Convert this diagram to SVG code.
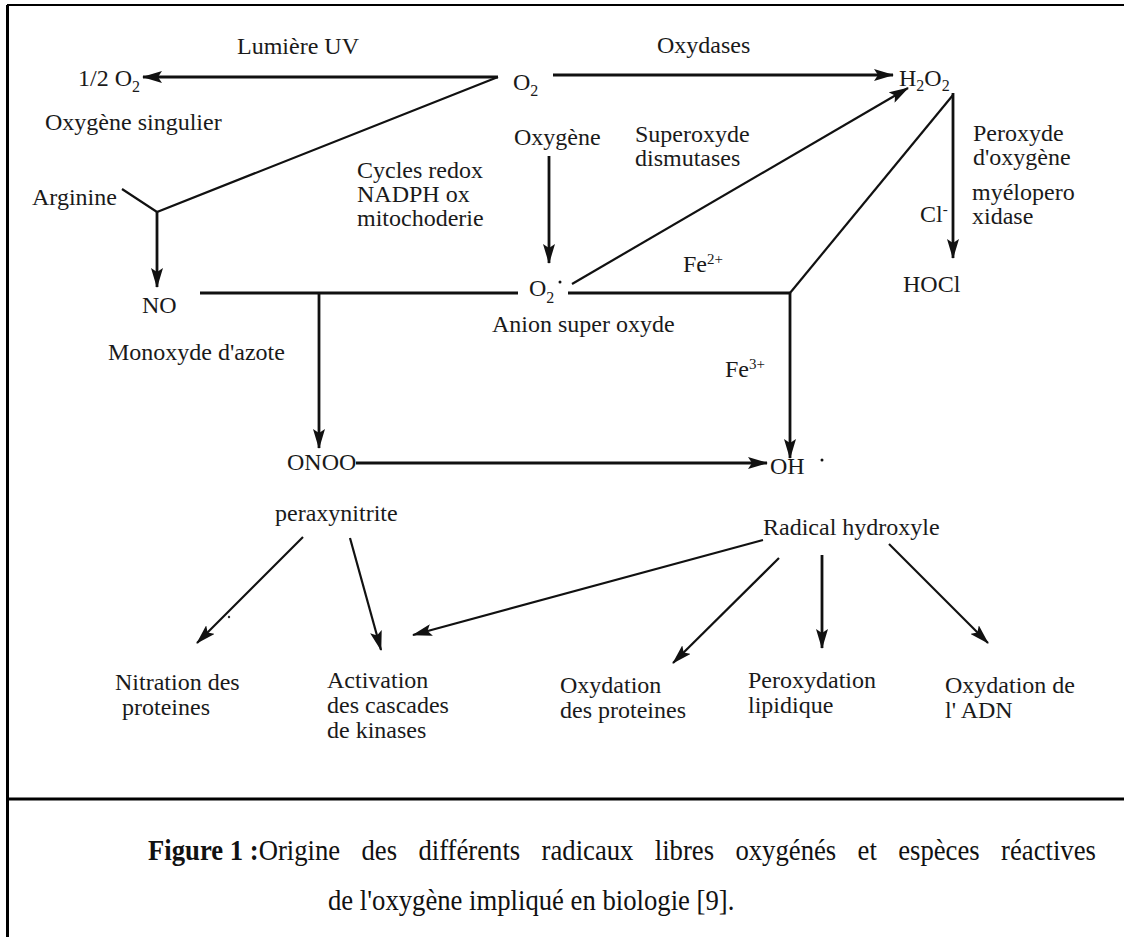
<svg xmlns="http://www.w3.org/2000/svg" width="1124" height="937" viewBox="0 0 1124 937" font-family="'Liberation Serif', 'Times New Roman', serif">
<defs>
<style>
text{font-family:"Liberation Serif","Times New Roman",serif;font-size:24px;fill:#1a1a1a}
.cap{font-size:29px;fill:#111}
.b{font-weight:bold}
.ln{stroke:#111;stroke-width:2.8;fill:none}
.thin{stroke:#111;stroke-width:2.2;fill:none}
.arr{marker-end:url(#ah)}
.frame{stroke:#000;stroke-width:3;fill:none}
</style>
<marker id="ah" viewBox="0 0 20 12" refX="19" refY="6" markerWidth="20" markerHeight="12" markerUnits="userSpaceOnUse" orient="auto">
<path d="M0,0 L20,6 L0,12 L4,6 z" fill="#111"/>
</marker>
</defs>
<rect width="1124" height="937" fill="#fff"/>
<g id="frame">
<line class="frame" x1="7.5" y1="5" x2="7.5" y2="937"/>
<line x1="7" y1="5" x2="1124" y2="5" stroke="#000" stroke-width="2"/>
<line class="frame" x1="7" y1="799" x2="1124" y2="799"/>
</g>
<g id="connectors">
<line class="ln arr" x1="498" y1="77" x2="143" y2="77"/>
<line class="ln arr" x1="553" y1="75" x2="893" y2="75"/>
<polyline class="thin" points="498,77 157,212 122,189"/>
<line class="ln arr" x1="157" y1="212" x2="157" y2="287"/>
<line class="ln arr" x1="549" y1="156" x2="549" y2="263"/>
<line class="ln" x1="200" y1="293" x2="518" y2="293"/>
<line class="ln arr" x1="319" y1="293" x2="319" y2="448"/>
<line class="ln" x1="568" y1="293" x2="790" y2="293"/>
<line class="thin arr" x1="572" y1="284" x2="908" y2="88"/>
<polyline class="thin" points="790,293 953,95"/>
<line class="ln arr" x1="790" y1="293" x2="790" y2="458"/>
<line class="ln arr" x1="953" y1="93" x2="953" y2="258"/>
<line class="ln arr" x1="356" y1="463" x2="767" y2="463"/>
<line class="thin arr" x1="303" y1="537" x2="197" y2="643"/>
<line class="thin arr" x1="350" y1="538" x2="381" y2="650"/>
<line class="thin arr" x1="763" y1="540" x2="413" y2="635"/>
<line class="thin arr" x1="779" y1="558" x2="673" y2="663"/>
<line class="ln arr" x1="822" y1="555" x2="822" y2="648"/>
<line class="thin arr" x1="889" y1="544" x2="988" y2="643"/>
<circle cx="229" cy="617" r="1.2" fill="#333"/>
</g>
<g id="n-o2"><text x="513" y="90">O<tspan dy="6" font-size="16">2</tspan></text></g>
<g id="n-half-o2"><text x="78" y="86">1/2 O<tspan dy="6" font-size="16">2</tspan></text></g>
<g id="l-lumiere"><text x="237" y="54">Lumière UV</text></g>
<g id="l-oxydases"><text x="657" y="53">Oxydases</text></g>
<g id="n-h2o2"><text x="899" y="86">H<tspan dy="5" font-size="16">2</tspan><tspan dy="-5">O</tspan><tspan dy="5" font-size="16">2</tspan></text></g>
<g id="l-singulier"><text x="45" y="130">Oxygène singulier</text></g>
<g id="l-oxygene"><text x="514" y="145">Oxygène</text></g>
<g id="l-sod"><text x="635" y="142">Superoxyde<tspan x="635" dy="24">dismutases</tspan></text></g>
<g id="l-peroxyde"><text x="973" y="141">Peroxyde<tspan x="973" dy="24">d'oxygène</tspan></text></g>
<g id="l-myelo"><text x="972" y="200">myélopero<tspan x="972" dy="24">xidase</tspan></text></g>
<g id="l-cl"><text x="920" y="222">Cl<tspan dy="-8" font-size="15">-</tspan></text></g>
<g id="l-cycles"><text x="357" y="178">Cycles redox<tspan x="357" dy="24">NADPH ox</tspan><tspan x="357" dy="24">mitochoderie</tspan></text></g>
<g id="n-arginine"><text x="32" y="205">Arginine</text></g>
<g id="n-no"><text x="142" y="313">NO</text></g>
<g id="l-no"><text x="108" y="360">Monoxyde d'azote</text></g>
<g id="n-o2rad"><text x="529" y="296">O<tspan dy="7" font-size="16">2</tspan></text><circle cx="560" cy="282" r="1.5" fill="#111"/></g>
<g id="l-anion"><text x="492" y="332">Anion super oxyde</text></g>
<g id="l-fe2"><text x="683" y="272">Fe<tspan dy="-8" font-size="15">2+</tspan></text></g>
<g id="l-fe3"><text x="725" y="377">Fe<tspan dy="-8" font-size="15">3+</tspan></text></g>
<g id="n-hocl"><text x="903" y="292">HOCl</text></g>
<g id="n-onoo"><text x="287" y="470">ONOO</text></g>
<g id="n-oh"><text x="770" y="474">OH</text><circle cx="822" cy="460" r="1.5" fill="#111"/></g>
<g id="l-perax"><text x="275" y="521">peraxynitrite</text></g>
<g id="l-radical"><text x="763" y="535">Radical hydroxyle</text></g>
<g id="n-nitration"><text x="115" y="690">Nitration des<tspan x="122" dy="25">proteines</tspan></text></g>
<g id="n-activation"><text x="327" y="688">Activation<tspan x="327" dy="25">des cascades</tspan><tspan x="327" dy="25">de kinases</tspan></text></g>
<g id="n-oxprot"><text x="560" y="693">Oxydation<tspan x="560" dy="25">des proteines</tspan></text></g>
<g id="n-perox"><text x="748" y="688">Peroxydation<tspan x="748" dy="25">lipidique</tspan></text></g>
<g id="n-adn"><text x="945" y="693">Oxydation de<tspan x="945" dy="25">l' ADN</tspan></text></g>
<g id="caption">
<g transform="translate(148,860) scale(0.92,1)"><text class="cap" x="0" y="0"><tspan class="b">Figure 1 :</tspan><tspan word-spacing="16">Origine des différents radicaux libres oxygénés et espèces réactives</tspan></text></g>
<g transform="translate(328,910) scale(0.92,1)"><text class="cap" x="0" y="0">de l'oxygène impliqué en biologie [9].</text></g>
</g>
</svg>
